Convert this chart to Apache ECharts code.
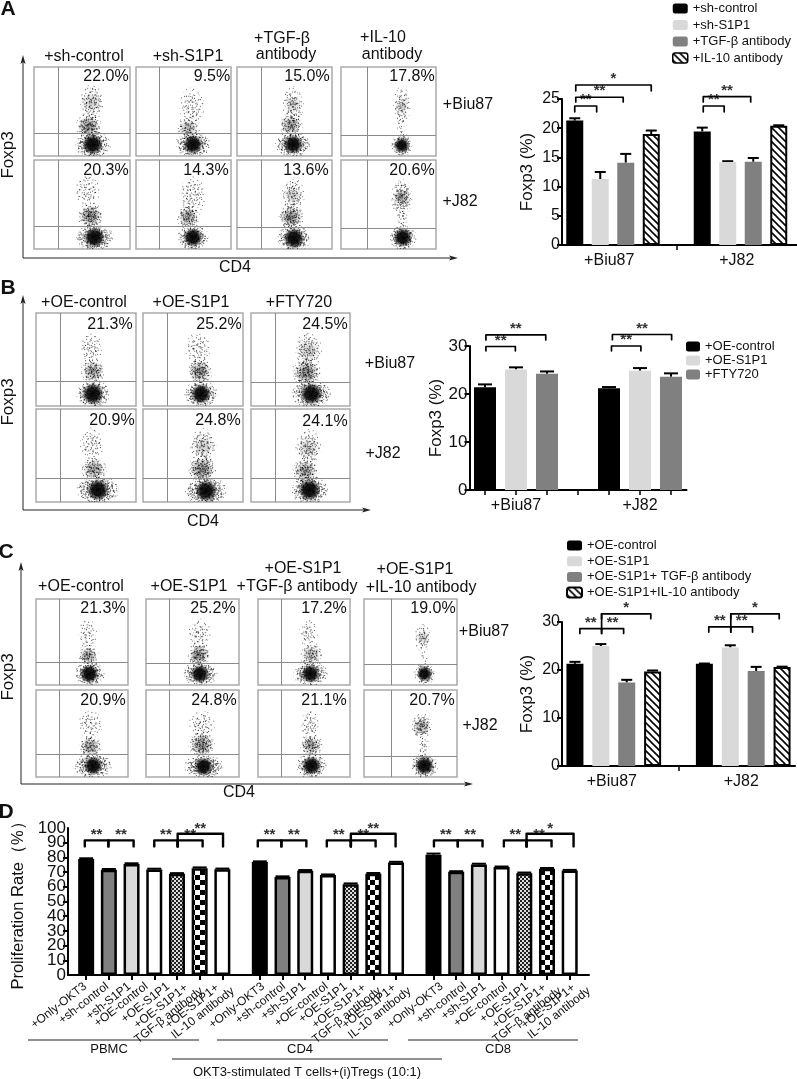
<!DOCTYPE html>
<html><head><meta charset="utf-8">
<style>html,body{margin:0;padding:0;background:#fff}#c{width:797px;height:1079px}</style>
<script src="https://cdn.jsdelivr.net/npm/echarts@6/dist/echarts.min.js"></script>
</head><body><div id="c"></div>
<script>
// ---------- values ----------
const slotsA = ['', '+Biu87', '', '', '', '', '+J82', '', ''];
const slotsB = ['', '+Biu87', '', '', '', '+J82', ''];
const valA_control = [21.3, null, null, null, null, 19.45, null, null, null];
const valA_sh = [null, 11.3, null, null, null, null, 14.2, null, null];
const valA_tgf = [null, null, 14.1, null, null, null, null, 14.25, null];
const valA_il = [null, null, null, 19.0, null, null, null, null, 20.4];
const errA = [21.7, 12.5, 15.6, 19.6, null, 20.1, 14.35, 14.9, 20.5];
const valB_control = [21.4, null, null, null, 21.2, null, null];
const valB_s1p1 = [null, 25.1, null, null, null, 24.85, null];
const valB_fty = [null, null, 24.2, null, null, null, 23.6];
const errB = [22.0, 25.55, 24.7, null, 21.45, 25.4, 24.3];
const valC_control = [21.3, null, null, null, null, 21.3, null, null, null];
const valC_s1p1 = [null, 25.0, null, null, null, null, 24.7, null, null];
const valC_tgf = [null, null, 17.4, null, null, null, null, 19.8, null];
const valC_il = [null, null, null, 19.7, null, null, null, null, 20.65];
const errC = [21.7, 25.4, 17.95, 19.9, null, 21.35, 25.15, 20.65, 20.7];
const dNames = ['+Only-OKT3', '+sh-control', '+sh-S1P1', '+OE-control', '+OE-S1P1', '+OE-S1P1+\nTGF-β antibody', '+OE-S1P1+\nIL-10 antibody'];
const dGroupStart = [0, 7.65, 15.3];
const dLabelAt = [-.04,.93,1.91,2.66,3.61,4.93,6.3, 7.8,8.72,9.61,10.59,11.43,12.77,14.09, 15.66,16.69,17.55,18.49,19.41,20.71,21.99];
const dPBMC = [78.9, 71.6, 75.5, 71.8, 68.9, 72.7, 72.0];
const dCD4 = [76.8, 66.6, 70.9, 68.0, 61.8, 68.9, 76.6];
const dCD8 = [81.8, 70.2, 75.2, 73.4, 69.3, 72.3, 71.1];
const errPBMC = [79.4, 72.1, 76.0, 72.3, 69.3, 73.2, 72.4];
const errCD4 = [77.3, 67.1, 71.4, 68.4, 62.3, 69.4, 77.0];
const errCD8 = [82.6, 70.6, 75.7, 73.8, 69.7, 72.8, 71.5];
const dTicks = [0,10,20,30,40,50,60,70,80,90,100];
// brackets: start, end, bar height, leg end, stars
const brA = [[0,.86,23.8,22.8,'**'],[.04,1.9,25.3,24.5,'**'],[.04,3,27.4,26.4,'*'],[5.04,5.86,23.8,22.8,'**'],[5.04,6.9,25.4,24.5,'**']];
const brB = [[.03,.98,29.9,29,'**'],[.03,1.96,32.3,31.25,'**'],[4.08,5.03,30,29,'**'],[4.11,6.02,32.4,31.3,'**']];
const brC = [[.19,1.03,28.6,27.6,'**'],[1.03,1.88,28.6,27.6,'**'],[1.03,2.93,31.7,30.7,'*'],[1.03,1.03,31.7,28.6,''],
             [5.17,6.02,29,27.9,'**'],[6.02,6.86,29,27.9,'**'],[6.02,7.89,31.7,30.7,'*'],[6.02,6.02,31.7,29,'']];
const brD = [[-.06,.98,91.6,87.5,'**'],[.98,2.09,91.6,87.5,'**'],[3,4.03,91.6,87.5,'**'],[4.03,5.13,91.6,87.5,'**'],[4.03,6.03,96.1,87.5,'**'],
             [7.56,8.6,91.6,87.5,'**'],[8.6,9.7,91.6,87.5,'**'],[10.6,11.66,91.6,87.5,'**'],[11.66,12.75,91.6,87.5,'**'],[11.66,13.63,96.1,87.5,'**'],
             [15.32,16.37,91.6,87.5,'**'],[16.37,17.46,91.6,87.5,'**'],[18.4,19.4,91.6,87.5,'**'],[19.4,20.5,91.6,87.5,'**'],[19.4,21.47,96.1,87.5,'*']];
// flow plots: each cell population estimated as [centre x, centre y, spread x, spread y, density]
const flowA = [
 [[61,13,17,14,9],[57,33,13,15,6],[60,60,13,20,3]], [[60,13,17,13,9],[55,31,12,13,4],[59,55,13,22,2]],
 [[59,13,17,13,9],[57,35,12,15,5],[59,58,11,20,3]],  [[64,12,10,12,9],[64,56,9,22,3],[64,30,5,11,1]],
 [[63,13,18,14,9],[59,37,13,15,6],[56,66,13,18,2]], [[60,13,15,13,9],[55,36,12,15,5],[60,60,14,22,2]],
 [[60,12,16,14,9],[57,36,13,15,6],[59,60,12,20,3]], [[65,13,13,13,9],[64,58,11,21,5],[64,34,6,11,2]]];
const flowB = [
 [[57,13,15,14,9],[57,37,12,14,5],[55,62,11,17,2]], [[58,13,15,13,9],[57,37,12,15,6],[55,62,12,18,2]],
 [[61,13,18,14,9],[56,36,14,16,6],[58,60,14,19,3]],
 [[62,13,19,14,9],[58,35,13,13,5],[56,62,12,18,2]], [[63,12,19,14,9],[59,35,14,15,6],[60,60,13,19,3]],
 [[59,13,17,14,9],[55,33,13,14,5],[58,58,13,20,3]]];
const flowC = [
 [[58,13,15,13,9],[57,34,11,14,5],[56,60,10,16,2]],  [[58,13,17,13,9],[57,35,12,15,6],[58,60,12,17,2]],
 [[57,13,17,13,9],[58,35,12,15,4],[55,60,10,17,2]],  [[65,13,10,12,9],[63,55,9,16,3],[64,33,5,10,1]],
 [[62,13,19,13,9],[59,35,12,14,5],[59,60,13,16,2]],  [[62,12,19,13,9],[60,37,14,15,6],[60,60,14,16,2]],
 [[58,13,15,13,9],[58,36,12,14,5],[56,60,10,17,2]],  [[65,13,13,13,9],[62,58,11,15,5],[64,35,6,12,2]]];
const gatesA = [[25,25.6],[24,25.6],[25,25.6],[28,23.3],[25,26],[24,26],[25,25],[28,23.8]];
const gatesB = [[24.6,27],[24.7,26.4],[24.2,26],[24.6,26],[24.7,25.3],[24.2,25.3]];
const gatesC = [[25,26],[25,25.5],[25,26],[29,24],[25,26],[25,26],[25,26],[29,24]];
const pctA = ['22.0%','9.5%','15.0%','17.8%','20.3%','14.3%','13.6%','20.6%'];
const pctB = ['21.3%','25.2%','24.5%','20.9%','24.8%','24.1%'];
const pctC = ['21.3%','25.2%','17.2%','19.0%','20.9%','24.8%','21.1%','20.7%'];

// ---------- layout ----------
const FONT = '"Liberation Sans", Arial, sans-serif';
const colsA = [[34,96],[136,95],[237,95],[341,95]], rowsA = [[67,89],[160,89]];
const colsB = [[36,100],[143,100],[251,99]], rowsB = [[313,93],[409,93]];
const colsC = [[36,92],[146,93],[258,92],[364,93]], rowsC = [[599,86],[690,87]];
const pctPosA = [[106,77],[212,77],[307,77],[412,77],[106,171],[206,171],[306,171],[412,171]];
const pctPosB = [[110,325],[219,325],[325,325],[112,421],[218,421],[325,422]];
const pctPosC = [[103,609],[213,609],[324,609],[433,609],[103,701],[214,701],[324,701],[432,701]];
const texts = [
 ['A',8,9,'b'],['B',8,288,'b'],['C',6,552,'b'],['D',6,812,'b'],
 ['+sh-control',84,57],['+sh-S1P1',188,57],['+TGF-β',282,39],['antibody',286,55],['+IL-10',383,38],['antibody',392,55],
 ['+Biu87',468,105],['+J82',460,202],['CD4',235,268],
 ['+OE-control',84,303],['+OE-S1P1',191,303],['+FTY720',299,303],['+Biu87',390,364],['+J82',383,454],['CD4',203,522],
 ['+OE-control',81,587],['+OE-S1P1',189,587],['+OE-S1P1',303,569],['+TGF-β antibody',297,587],['+OE-S1P1',415,570],['+IL-10 antibody',421,588],
 ['+Biu87',484,632],['+J82',480,726],['CD4',239,793],
 ['PBMC',109,1049,'s'],['CD4',300,1049,'s'],['CD8',498,1049,'s'],['OKT3-stimulated T cells+(i)Tregs (10:1)',307,1072,'s']
];
const vTexts = [['Foxp3',8,155],['Foxp3',8,402],['Foxp3',8,677]];
const rules = [[28,199,1040],[217,388,1040],[408,578,1040],[172,442,1059]];
const arrows = [[23,55,258,458],[23,295,510,371],[21,562,784,473]];

// ---------- textures ----------
function tile(w, h, draw){const c=document.createElement('canvas');c.width=w;c.height=h;draw(c.getContext('2d'));return c;}
const hatch = tile(7,7,g=>{g.fillStyle='#fff';g.fillRect(0,0,7,7);g.strokeStyle='#000';g.lineWidth=1.6;
  [[-7,-7,14,14],[-7,0,7,14],[0,-7,14,7]].forEach(l=>{g.beginPath();g.moveTo(l[0],l[1]);g.lineTo(l[2],l[3]);g.stroke();});});
const fineCheck = tile(4,4,g=>{g.fillStyle='#ddd';g.fillRect(0,0,4,4);g.fillStyle='#222';g.fillRect(0,0,2,2);g.fillRect(2,2,2,2);});
const bigCheck = tile(10,10,g=>{g.fillStyle='#fff';g.fillRect(0,0,10,10);g.fillStyle='#000';g.fillRect(0,0,5,5);g.fillRect(5,5,5,5);});
const stippleDots = [[3,1],[17,0],[29,2],[8,4],[22,3],[34,5],[13,6],[1,7],[26,8],[19,9],[6,10],[31,10],[11,11],[36,12],[24,12],
 [2,13],[16,13],[28,15],[8,15],[21,16],[33,16],[13,17],[4,18],[25,19],[36,19],[17,20],[9,21],[29,21],[1,22],[22,23],
 [14,24],[33,24],[6,25],[26,25],[18,26],[11,27],[35,28],[2,28],[23,29],[29,29],[8,30],[15,31],[20,32],[32,32],[4,33],
 [27,33],[12,34],[36,35],[18,35],[24,36],[7,36],[30,36],[0,17],[10,7],[15,2],[31,27],[20,13],[5,29],[27,5],[35,1]];
const stipple = tile(37,37,g=>{g.fillStyle='rgba(0,0,0,.62)';stippleDots.forEach(d=>g.fillRect(d[0],d[1],1,1));});
const turns = [.13,.71,1.29,1.93,2.47,3.01,3.59,4.21,4.83,5.37,.41,1.03,1.67,2.23,2.79,3.31];
const pat = im => ({image:im,repeat:'repeat'});
const dotPat = i => ({image:stipple,repeat:'repeat',rotation:turns[i%turns.length],x:i*5.3,y:i*3.7});

// ---------- renderers ----------
function cloudItem(params, api){
  const c = api.coord([api.value(0), api.value(1)]);
  const s = api.size([api.value(2), api.value(3)]);
  const d = api.value(4), ch = [];
  const n = d === 9 ? 16 : d * 2.5;
  for(let i=0;i<n;i++){
    const f = d === 9 ? 1.12 - i*0.04 : 1.02 - i*0.72/n;
    ch.push({type:'ellipse',shape:{cx:c[0],cy:c[1],rx:s[0]*f,ry:s[1]*f},style:{fill:dotPat(i)}});
  }
  if(d === 9){
    ch.push({type:'ellipse',shape:{cx:c[0],cy:c[1],rx:s[0]*.85,ry:s[1]*.85},
      style:{fill:{type:'radial',x:.5,y:.5,r:.5,colorStops:[{offset:0,color:'rgba(0,0,0,.97)'},{offset:.55,color:'rgba(0,0,0,.86)'},{offset:1,color:'rgba(0,0,0,0)'}]}}});
  } else if(d >= 3){
    const a = 0.075*d;
    ch.push({type:'ellipse',shape:{cx:c[0],cy:c[1],rx:s[0]*.85,ry:s[1]*.85},
      style:{fill:{type:'radial',x:.5,y:.5,r:.5,colorStops:[{offset:0,color:'rgba(0,0,0,'+a+')'},{offset:1,color:'rgba(0,0,0,0)'}]}}});
  }
  return {type:'group',children:ch};
}
const errItem = (cap,lw) => (params, api) => {
  const a = api.coord([api.value(0), api.value(1)]), b = api.coord([api.value(0), api.value(2)]);
  const st = {stroke:'#000',lineWidth:lw,fill:'none'};
  return {type:'group',children:[
    {type:'line',shape:{x1:a[0],y1:a[1],x2:b[0],y2:b[1]},style:st},
    {type:'line',shape:{x1:a[0]-cap/2,y1:b[1],x2:a[0]+cap/2,y2:b[1]},style:st}]};
};
const bracketItem = (arr,lw,fs,dy) => (params, api) => {
  const it = arr[params.dataIndex];
  const l = api.coord([it[0],it[2]]), r = api.coord([it[1],it[2]]), leg = api.coord([it[0],it[3]]);
  const st = {stroke:'#000',lineWidth:lw,fill:'none',lineCap:'round',lineJoin:'round'};
  const ch = [{type:'polyline',shape:{points:[[l[0],leg[1]],[l[0],l[1]],[r[0],r[1]],[r[0],leg[1]]]},style:st}];
  if(it[4]) ch.push({type:'text',x:(l[0]+r[0])/2,y:l[1]+dy,
    style:{text:it[4],font:'bold '+fs+'px '+FONT,fill:'#333',align:'center',verticalAlign:'middle',textAlign:'center',textVerticalAlign:'middle'}});
  return {type:'group',children:ch};
};
const lineItem = (params, api) => {
  const a = api.coord([api.value(0),0]), b = api.coord([api.value(0),api.value(1)]);
  return {type:'line',shape:{x1:a[0],y1:a[1],x2:b[0],y2:b[1]},style:{stroke:'#000',lineWidth:1}};
};

// ---------- option ----------
const grids=[],xs=[],ys=[],series=[];
function addFlow(col,row,clouds,gate){
  const i=grids.length;
  grids.push({left:col[0],top:row[0],width:col[1],height:row[1],show:true,backgroundColor:'#fff',borderColor:'#aaa',borderWidth:1.5});
  xs.push({gridIndex:i,type:'value',min:0,max:100,show:false});
  ys.push({gridIndex:i,type:'value',min:0,max:100,show:false});
  series.push({type:'custom',name:'flow',coordinateSystem:'cartesian2d',xAxisIndex:xs.length-1,yAxisIndex:i,clip:true,
    data:clouds,encode:{x:0,y:1},renderItem:cloudItem,
    markLine:{silent:true,symbol:'none',animation:false,label:{show:false},lineStyle:{color:'#8a8a8a',width:1,type:'solid'},
      data:[{xAxis:gate[0]},{yAxis:gate[1]}]}});
}
[[colsA,rowsA,flowA,gatesA],[colsB,rowsB,flowB,gatesB],[colsC,rowsC,flowC,gatesC]].forEach(p=>{
  p[2].forEach((cl,k)=>{const nc=p[0].length;addFlow(p[0][k%nc],p[1][Math.floor(k/nc)],cl,p[3][k]);});
});
const styles = {
  black:{color:'#000'}, light:{color:'#d9d9d9'}, mid:{color:'#808080'},
  hatch:{color:pat(hatch),borderColor:'#000',borderWidth:2}
};
function addBars(o){
  const g=grids.length;
  grids.push({left:o.left,top:o.top,width:o.width,height:o.height});
  const xi=xs.length;
  xs.push({gridIndex:g,type:'category',data:o.cats,
    axisLine:{lineStyle:{color:'#000',width:2}},
    axisTick:{show:true,alignWithLabel:true,length:5,lineStyle:{color:'#000',width:1.5},interval:o.tick},
    axisLabel:{interval:0,color:'#111',fontSize:16,fontFamily:FONT,margin:8,padding:[0,0,0,o.shift]}});
  xs.push({gridIndex:g,type:'value',min:-.5,max:o.cats.length-.5,show:false});
  ys.push({gridIndex:g,type:'value',min:0,max:o.max,interval:o.interval,splitLine:{show:false},
    name:'Foxp3 (%)',nameLocation:'middle',nameRotate:90,nameGap:o.nameGap,nameTextStyle:{fontSize:17,color:'#111',fontFamily:FONT},
    axisLine:{show:true,onZero:false,lineStyle:{color:'#000',width:2}},axisTick:{show:true,length:5,lineStyle:{color:'#000',width:2}},
    axisLabel:{fontSize:o.tickFont,color:'#111',fontFamily:FONT,margin:2,showMinLabel:true,showMaxLabel:true}});
  const yi=ys.length-1;
  o.sets.forEach(s=>series.push({type:'bar',name:s[0],xAxisIndex:xi,yAxisIndex:yi,data:s[1],barWidth:o.barWidth,barGap:'-100%',itemStyle:s[2]}));
  series.push({type:'custom',name:'error',xAxisIndex:xi+1,yAxisIndex:yi,
    data:o.err.map((e,k)=>e==null?null:[k,o.sets.map(s=>s[1][k]).find(v=>v!=null),e]).filter(Boolean),
    encode:{x:0,y:[1,2]},renderItem:errItem(o.cap,2)});
  series.push({type:'custom',name:'significance',xAxisIndex:xi+1,yAxisIndex:yi,clip:false,
    data:o.br.map(b=>[b[0],b[2]]),encode:{x:0,y:1},renderItem:bracketItem(o.br,1.7,15,-6)});
}
addBars({left:562,top:99,width:229.5,height:146,cats:slotsA,max:25,interval:5,nameGap:26,tickFont:16,barWidth:17,cap:11,shift:18,br:brA,err:errA,
  tick:i=>i===4,
  sets:[['+sh-control',valA_control,styles.black],['+sh-S1P1',valA_sh,styles.light],['+TGF-β antibody',valA_tgf,styles.mid],['+IL-10 antibody',valA_il,styles.hatch]]});
addBars({left:469.5,top:346,width:217,height:144,cats:slotsB,max:30,interval:10,nameGap:25,tickFont:17,barWidth:22,cap:14,shift:0,br:brB,err:errB,
  tick:()=>true,
  sets:[['+OE-control',valB_control,styles.black],['+OE-S1P1',valB_s1p1,styles.light],['+FTY720',valB_fty,styles.mid]]});
addBars({left:562,top:622,width:233,height:144,cats:slotsA,max:30,interval:10,nameGap:26,tickFont:16,barWidth:17,cap:11,shift:22,br:brC,err:errC,
  tick:i=>i===4,
  sets:[['+OE-control',valC_control,styles.black],['+OE-S1P1',valC_s1p1,styles.light],['+OE-S1P1+ TGF-β antibody',valC_tgf,styles.mid],['+OE-S1P1+IL-10 antibody',valC_il,styles.hatch]]});

// panel D
const dMin = -.8, dMax = 22.15;
const dSlots = dGroupStart.flatMap(s=>dNames.map((_,k)=>+(s+k).toFixed(2)));
const dAll = dPBMC.map((_,k)=>[dPBMC[k],dCD4[k],dCD8[k]]);
const dErr = dPBMC.map((_,k)=>[errPBMC[k],errCD4[k],errCD8[k]]);
const dStyle = [{color:'#000'},{color:'#808080'},{color:'#d9d9d9'},{color:'#fff'},{color:pat(fineCheck)},{color:pat(bigCheck)},{color:'#fff'}];
function dLabel(v){
  const i = dLabelAt.findIndex(s=>Math.abs(s-v)<.01);
  if(i<0) return '';
  const parts = dNames[i%7].split('\n');
  return parts.length>1 ? '{p|'+parts[0]+'}\n{q|'+parts[1]+'}' : '{q|'+parts[0]+'}';
}
{
  const g=grids.length;
  grids.push({left:68,top:828,width:521,height:147});
  const xi=xs.length;
  const rt={fontSize:12,lineHeight:12,color:'#111',fontFamily:FONT};
  xs.push({gridIndex:g,type:'value',min:dMin,max:dMax,splitLine:{show:false},
    axisLine:{lineStyle:{color:'#000',width:2}},
    axisTick:{show:true,length:5,customValues:dSlots,lineStyle:{color:'#000',width:2}},
    axisLabel:{show:true,customValues:[dMin].concat(dLabelAt,[dMax]),rotate:38,fontSize:12,lineHeight:12,color:'#111',fontFamily:FONT,margin:10,
      rich:{p:Object.assign({padding:[0,10,0,0]},rt),q:rt},
      formatter:dLabel}});
  const yLabels = [dTicks[0]].concat(dTicks,[dTicks[dTicks.length-1]]);
  ys.push({gridIndex:g,type:'value',min:0,max:100,interval:10,splitLine:{show:false},
    name:'Proliferation Rate（%）',nameLocation:'middle',nameRotate:90,nameGap:39,nameTextStyle:{fontSize:16.5,color:'#111',fontFamily:FONT},
    axisLine:{show:true,onZero:false,lineStyle:{color:'#000',width:2}},axisTick:{show:true,length:5,lineStyle:{color:'#000',width:2}},
    axisLabel:{customValues:yLabels,fontSize:17,lineHeight:12,color:'#111',fontFamily:FONT,margin:2,
      formatter:(v,i)=>(i===0||i===yLabels.length-1)?'':String(v)}});
  const yi=ys.length-1;
  dNames.forEach((n,k)=>{
    series.push({type:'bar',name:n,xAxisIndex:xi,yAxisIndex:yi,barWidth:16,barGap:'-100%',
      itemStyle:Object.assign({borderColor:'#000',borderWidth:2.5},dStyle[k]),
      data:dGroupStart.map((s,j)=>[+(s+k).toFixed(2),dAll[k][j]])});
    series.push({type:'custom',name:'error',xAxisIndex:xi,yAxisIndex:yi,encode:{x:0,y:[1,2]},renderItem:errItem(14,2),
      data:dGroupStart.map((s,j)=>[+(s+k).toFixed(2),dAll[k][j],dErr[k][j]])});
  });
  series.push({type:'custom',name:'centre',xAxisIndex:xi,yAxisIndex:yi,encode:{x:0,y:1},renderItem:lineItem,
    data:dGroupStart.map((s,j)=>[+(s+6).toFixed(2),dAll[6][j]])});
  series.push({type:'custom',name:'significance',xAxisIndex:xi,yAxisIndex:yi,clip:false,encode:{x:0,y:1},
    data:brD.map(b=>[b[0],b[2]]),renderItem:bracketItem(brD,2.4,15,-5)});
}

// free text, rules and arrows
const gfx=[];
const txt=(t,x,y,font,rot)=>({type:'text',x,y,rotation:rot||0,silent:true,
  style:{text:t,font,fill:'#111',align:'center',verticalAlign:'middle',textAlign:'center',textVerticalAlign:'middle'}});
texts.forEach(t=>gfx.push(txt(t[0],t[1],t[2],t[3]==='b'?'bold 21px '+FONT:t[3]==='s'?'13px '+FONT:'16px '+FONT)));
[[pctA,pctPosA],[pctB,pctPosB],[pctC,pctPosC]].forEach(p=>p[0].forEach((s,k)=>gfx.push(txt(s,p[1][k][0],p[1][k][1],'16px '+FONT))));
vTexts.forEach(t=>gfx.push(txt(t[0],t[1],t[2],'17px '+FONT,Math.PI/2)));
rules.forEach(r=>gfx.push({type:'line',silent:true,shape:{x1:r[0],y1:r[2],x2:r[1],y2:r[2]},style:{stroke:'#222',lineWidth:1}}));
arrows.forEach(a=>{
  const st={stroke:'#222',lineWidth:1};
  gfx.push({type:'line',silent:true,shape:{x1:a[0],y1:a[1]+4,x2:a[0],y2:a[2]},style:st});
  gfx.push({type:'line',silent:true,shape:{x1:a[0],y1:a[2],x2:a[3]-6,y2:a[2]},style:st});
  gfx.push({type:'polygon',silent:true,shape:{points:[[a[0],a[1]],[a[0]+2.5,a[1]+9],[a[0],a[1]+7],[a[0]-2.5,a[1]+9]]},style:{fill:'#222'}});
  gfx.push({type:'polygon',silent:true,shape:{points:[[a[3],a[2]],[a[3]-9,a[2]-2.5],[a[3]-7,a[2]],[a[3]-9,a[2]+2.5]]},style:{fill:'#222'}});
});
gfx.push({type:'line',silent:true,shape:{x1:790,y1:245,x2:797,y2:245},style:{stroke:'#000',lineWidth:2}});

const legendBase={orient:'vertical',selectedMode:false,padding:0,itemHeight:10,textStyle:{fontSize:13,color:'#111',fontFamily:FONT}};
const option={
  animation:false,backgroundColor:'#fff',tooltip:{show:false},
  grid:grids,xAxis:xs,yAxis:ys,series,graphic:{elements:gfx},
  legend:[
    Object.assign({},legendBase,{left:672,top:2,itemWidth:15,itemGap:3.5,itemStyle:{borderWidth:1.5},data:['+sh-control','+sh-S1P1','+TGF-β antibody','+IL-10 antibody']}),
    Object.assign({},legendBase,{left:686,top:340,itemWidth:14,itemGap:1,data:['+OE-control','+OE-S1P1','+FTY720']}),
    Object.assign({},legendBase,{left:566,top:539,itemWidth:15,itemGap:2.7,data:['+OE-control','+OE-S1P1','+OE-S1P1+ TGF-β antibody','+OE-S1P1+IL-10 antibody']})
  ]
};
echarts.init(document.getElementById('c'),null,{renderer:'canvas'}).setOption(option);
</script></body></html>
